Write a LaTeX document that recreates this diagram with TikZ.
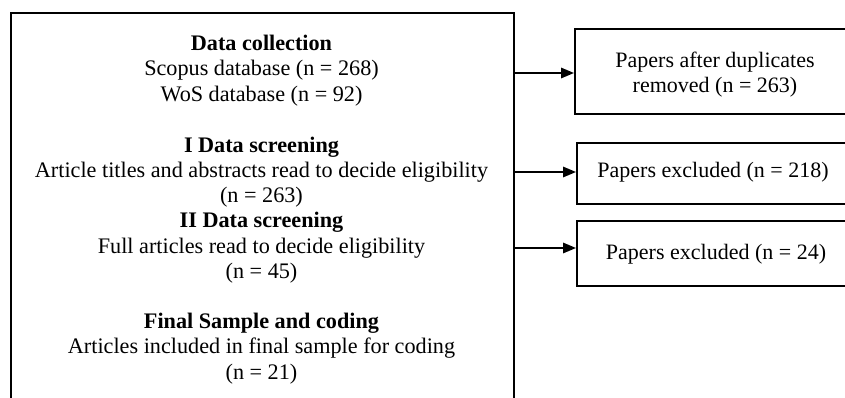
\documentclass[tikz,border=0pt]{standalone}
\usepackage{fontspec}
\setmainfont{Liberation Serif}
\usetikzlibrary{arrows.meta}
\begin{document}
\begin{tikzpicture}[x=1pt,y=1pt,
  frame/.style={draw=black, line width=1.6pt, rectangle, inner sep=0pt},
  txt/.style={align=center, font=\fontsize{22.2}{25.2}\selectfont, inner sep=0pt},
  sidetxt/.style={align=center, font=\fontsize{22}{25}\selectfont, inner sep=0pt},
  arr/.style={draw=black, line width=1.6pt, -{Triangle[length=13pt,width=10.5pt]}}]
\useasboundingbox (0,0) rectangle (845,-398);
\clip (0,0) rectangle (845,-398);
\fill[white] (0,0) rectangle (845,-398);

% main process box (runs past the lower edge)
\node[frame, minimum width=503pt, minimum height=420pt, anchor=north west] (main) at (10,-12) {};

% stage texts inside the main box
\node[txt] (collect) at (261.5,-70.5) {\textbf{Data collection}\\Scopus database (n = 268)\\WoS database (n = 92)};
\node[txt] (screen) at (261.5,-210) {\textbf{I Data screening}\\Article titles and abstracts read to decide eligibility\\(n = 263)\\\textbf{II Data screening}\\Full articles read to decide eligibility\\(n = 45)};
\node[txt] (final) at (261.5,-348.5) {\textbf{Final Sample and coding}\\Articles included in final sample for coding\\(n = 21)};

% side boxes
\node[frame, minimum width=284pt, minimum height=85pt, anchor=north west] (dup) at (574,-28) {};
\node[sidetxt] (duptxt) at (715,-74.5) {Papers after duplicates\\removed (n = 263)};
\node[frame, minimum width=280pt, minimum height=61pt, anchor=north west] (exc1) at (576,-142) {};
\node[sidetxt] (exc1txt) at (713,-172.5) {Papers excluded (n = 218)};
\node[frame, minimum width=280pt, minimum height=65pt, anchor=north west] (exc2) at (576,-220) {};
\node[sidetxt] (exc2txt) at (716,-254) {Papers excluded (n = 24)};

% arrow levels
\coordinate (l1) at (0,-73);
\coordinate (l2) at (0,-172);
\coordinate (l3) at (0,-248);

\draw[arr] (main.east |- l1) -- (dup.west |- l1);
\draw[arr] (main.east |- l2) -- (exc1.west |- l2);
\draw[arr] (main.east |- l3) -- (exc2.west |- l3);
\end{tikzpicture}
\end{document}
